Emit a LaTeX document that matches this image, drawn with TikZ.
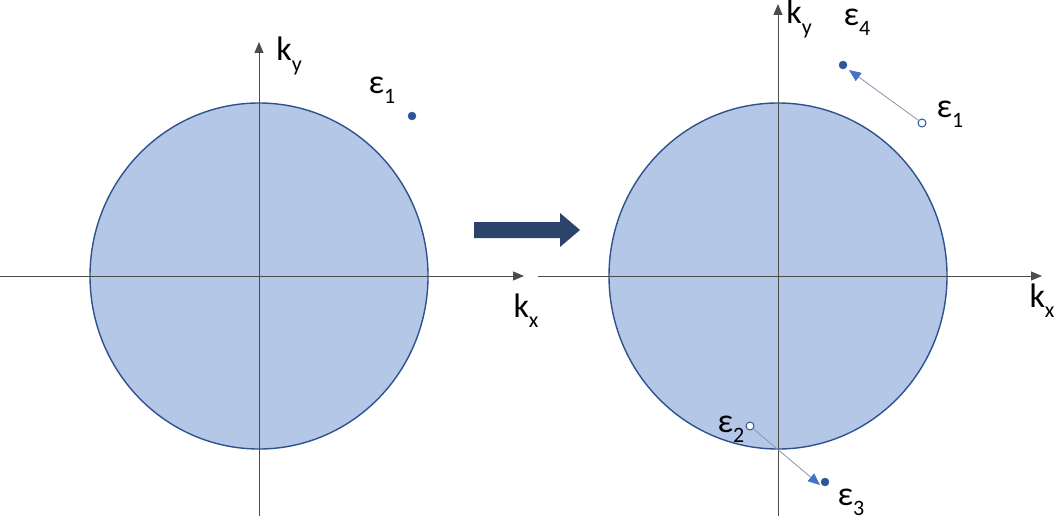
\documentclass[tikz,border=0pt]{standalone}
\usepackage{fontspec}
\setmainfont{Carlito}
\usetikzlibrary{arrows.meta,shapes.geometric}
\definecolor{fillblue}{RGB}{180,199,231}
\definecolor{edgeblue}{RGB}{47,82,143}
\definecolor{dotblue}{RGB}{47,85,151}
\definecolor{arrblue}{RGB}{68,114,196}
\definecolor{navy}{RGB}{44,68,106}
\definecolor{linegray}{RGB}{140,150,170}
\newcommand\sbs[1]{\raisebox{-0.3em}{\fontsize{22}{22}\selectfont #1}}
\tikzset{
  disc/.style={ellipse, draw=edgeblue, line width=1.4pt, fill=fillblue, minimum width=338pt, minimum height=346pt, inner sep=0},
  axis/.style={draw=black!70, line width=0.9pt, -{Triangle[length=11pt,width=9pt]}},
  lbl/.style={font=\fontsize{34}{34}\selectfont, inner sep=0},
  fulldot/.style={circle, fill=dotblue, draw=dotblue, minimum size=8pt, inner sep=0},
  opendot/.style={circle, fill=white, draw=dotblue, line width=1pt, minimum size=8pt, inner sep=0},
  move/.style={draw=linegray, line width=0.8pt, -{Triangle[length=12pt,width=10pt,color=arrblue,fill=arrblue]}},
}
\begin{document}
\begin{tikzpicture}[x=1pt,y=-1pt]
\useasboundingbox[fill=white] (0,0) rectangle (1059,519);
% left panel
\node[disc] (cL) at (259,276) {};
\coordinate (hL0) at (0,276);
\coordinate (hL1) at (524,276);
\coordinate (vL0) at (259,516);
\coordinate (vL1) at (259,42);
\draw[axis] (hL0) -- (hL1);
\draw[axis] (vL0) -- (vL1);
\node[lbl] (kyL) at (289,56) {k\sbs{y}};
\node[lbl] (kxL) at (526,311) {k\sbs{x}};
\node[lbl] (e1L) at (382,90) {ε\sbs{1}};
\node[fulldot] (d1L) at (412,116) {};
% big arrow
\fill[navy] (474,222) -- (560,222) -- (560,213) -- (580,230) -- (560,247) -- (560,238) -- (474,238) -- cycle;
% right panel
\node[disc] (cR) at (778,276) {};
\coordinate (hR0) at (538,276);
\coordinate (hR1) at (1042,276);
\coordinate (vR0) at (778,516);
\coordinate (vR1) at (778,4);
\draw[axis] (hR0) -- (hR1);
\draw[axis] (vR0) -- (vR1);
\node[lbl] (kyR) at (799,19) {k\sbs{y}};
\node[lbl] (kxR) at (1042,301) {k\sbs{x}};
\node[fulldot] (d4) at (843,65) {};
\node[opendot] (d1R) at (922,123) {};
\node[lbl] (e4) at (857,22) {ε\sbs{4}};
\node[lbl] (e1R) at (950,114) {ε\sbs{1}};
\draw[move] (d1R) -- ([shift={(6pt,-5pt)}]d4.center);
\node[opendot] (d2) at (750,426) {};
\node[fulldot] (d3) at (825,482) {};
\node[lbl] (e2) at (731,429) {ε\sbs{2}};
\node[lbl] (e3) at (851,502) {ε\sbs{3}};
\draw[move] (d2) -- ([shift={(-5pt,-3pt)}]d3.center);
\end{tikzpicture}
\end{document}
